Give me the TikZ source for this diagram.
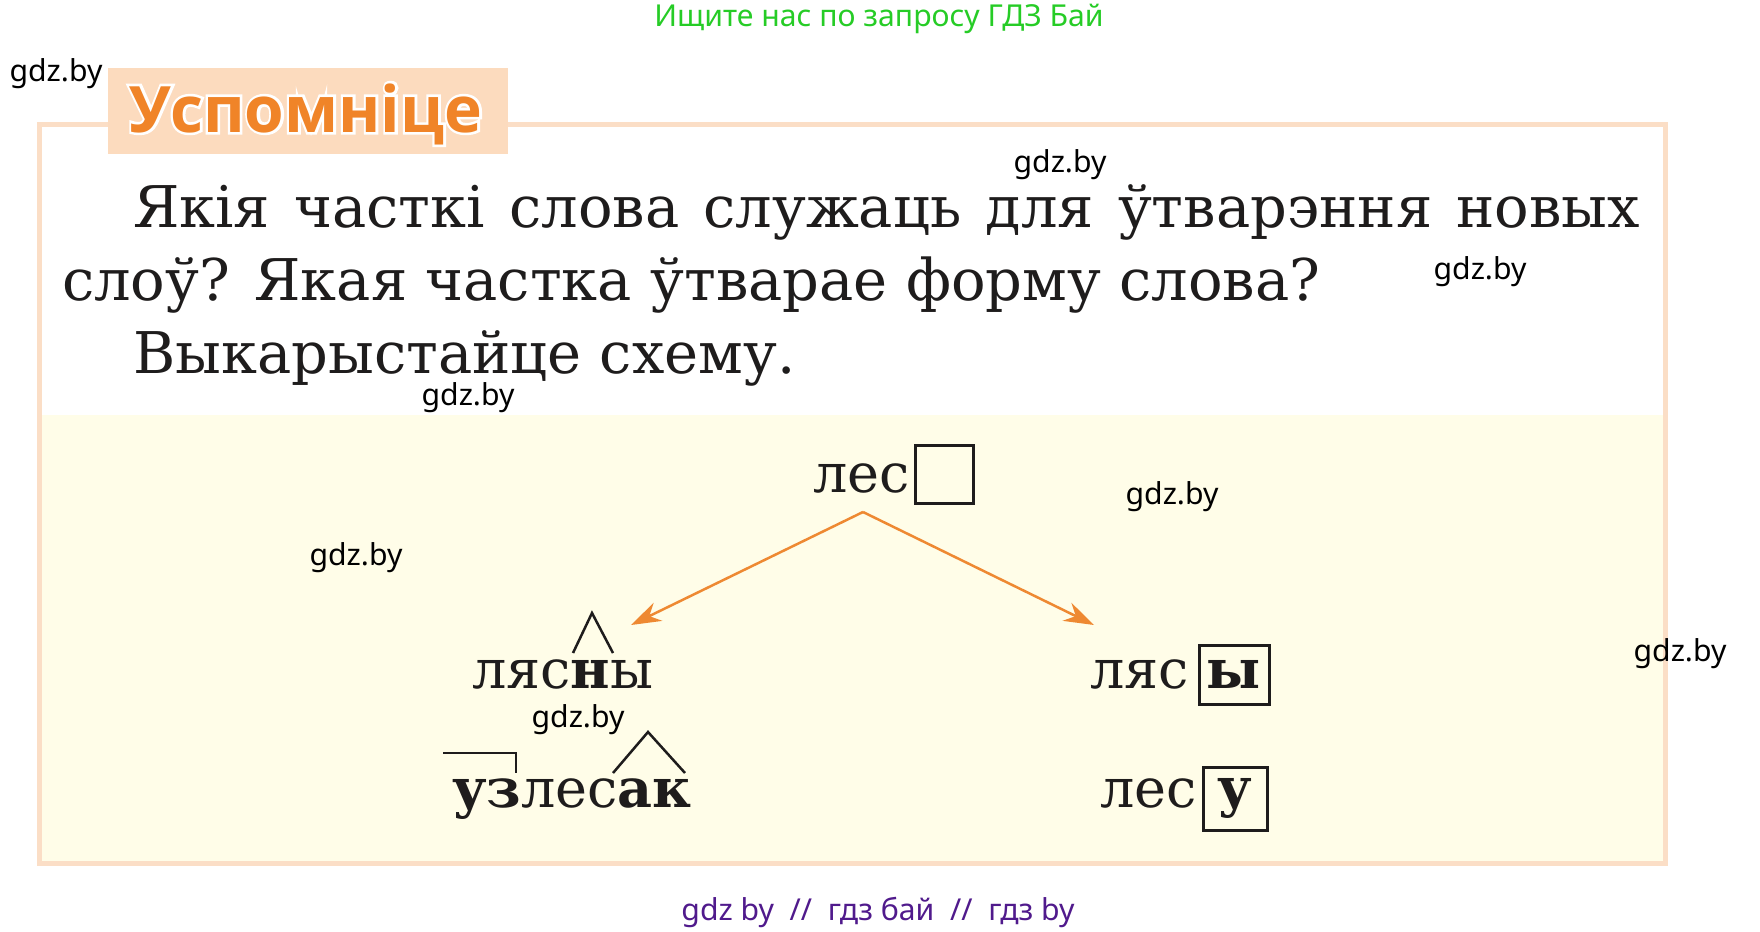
\documentclass[tikz,border=0pt]{standalone}
\usepackage{fontspec}
\setmainfont{DejaVu Serif}
\newfontfamily\wmfont{Noto Sans}
\newfontfamily\titlefont{Open Sans}
\newfontfamily\titleoutline{Open Sans}[BoldFeatures={FakeBold=8}]
\usetikzlibrary{arrows.meta}
\definecolor{peach}{RGB}{252,219,190}
\definecolor{framec}{RGB}{251,222,198}
\definecolor{cream}{RGB}{255,253,232}
\definecolor{orangetxt}{RGB}{240,132,40}
\definecolor{arrowc}{RGB}{238,137,50}
\definecolor{greentxt}{RGB}{38,204,38}
\definecolor{purpletxt}{RGB}{80,26,140}
\definecolor{inkc}{RGB}{30,28,28}
\begin{document}
\begin{tikzpicture}[x=1pt,y=-1pt,
  wm/.style={font=\wmfont\fontsize{30.2}{35}\selectfont, text=black, inner sep=0pt},
  qline/.style={font=\fontsize{57.5}{66}\selectfont, text=inkc, inner sep=0pt, anchor=base west},
  word/.style={font=\fontsize{54}{64}\selectfont, text=inkc, inner sep=0pt, anchor=base west},
  endbox/.style={draw=inkc, line width=3pt, inner sep=0pt, font=\bfseries\fontsize{54}{64}\selectfont, text=inkc},
  branch/.style={draw=arrowc, line width=2.5pt, -{Stealth[length=30pt,width=20pt]}},
  morph/.style={draw=inkc, line width=2.5pt},
  titletext/.style={font=\titlefont\bfseries\fontsize{64}{72}\selectfont, inner sep=0pt, anchor=base},
  titleback/.style={font=\titleoutline\bfseries\fontsize{64}{72}\selectfont, inner sep=0pt, anchor=base}
]
\useasboundingbox (0,0) rectangle (1760,931);
\fill[white] (0,0) rectangle (1760,931);
% panel
\fill[cream] (41,415) rectangle (1663,861);
\draw[framec, line width=5pt] (39,125) rectangle (1665,863);
% title
\node[fill=peach, minimum width=400pt, minimum height=86pt, inner sep=0pt] (tbox) at (308,111) {};
\node[titleback, text=white] (titleout) at (306,132) {Успомніце};
\node[titletext, text=orangetxt] (title) at (306,132) {Успомніце};
% question
\node[qline] (q1) at (133,227) {\makebox[1507pt][s]{Якія часткі слова служаць для ўтварэння новых}};
\node[qline] (q2) at (62,300) {слоў? Якая частка ўтварае форму слова?};
\node[qline] (q3) at (133,373) {Выкарыстайце схему.};
% scheme
\node[word] (root) at (813,492) {лес};
\node[endbox, minimum width=58pt, minimum height=58pt] (rootbox) at (944,474) {};
\coordinate (apex) at (863,512);
\coordinate (ltip) at (631,625);
\coordinate (rtip) at (1094,625);
\draw[branch] (apex) -- (ltip);
\draw[branch] (apex) -- (rtip);
\node[word] (lyasny) at (472,688) {ляс\textbf{н}ы};
\node[word] (uzlesak) at (452,807) {\textbf{уз}лес\textbf{ак}};
\node[word] (lyas) at (1090,688) {ляс};
\node[endbox, minimum width=70pt, minimum height=59pt] (lyasbox) at (1234,674.5) {ы};
\node[word] (les2) at (1100,807) {лес};
\node[endbox, minimum width=64pt, minimum height=63pt] (les2box) at (1235,798.5) {у};
% morpheme marks
\draw[morph] (573,653) -- (592,613) -- (613,653);
\draw[morph] (613,773) -- (648,732) -- (685,773);
\draw[morph] (443,753) -- (516,753) -- (516,773);
% watermarks
\node[wm] (w1) at (56,74) {gdz.by};
\node[wm] (w2) at (1060,165) {gdz.by};
\node[wm] (w3) at (1480,272) {gdz.by};
\node[wm] (w4) at (468,398) {gdz.by};
\node[wm] (w5) at (1172,497) {gdz.by};
\node[wm] (w6) at (356,558) {gdz.by};
\node[wm] (w7) at (1680,654) {gdz.by};
\node[wm] (w8) at (578,720) {gdz.by};
\node[wm, text=greentxt, anchor=base] (top) at (879,27) {Ищите нас по запросу ГДЗ Бай};
\node[wm, text=purpletxt, anchor=base] (bottom) at (878,920) {gdz by\ \ //\ \ гдз бай\ \ //\ \ гдз by};
\end{tikzpicture}
\end{document}
